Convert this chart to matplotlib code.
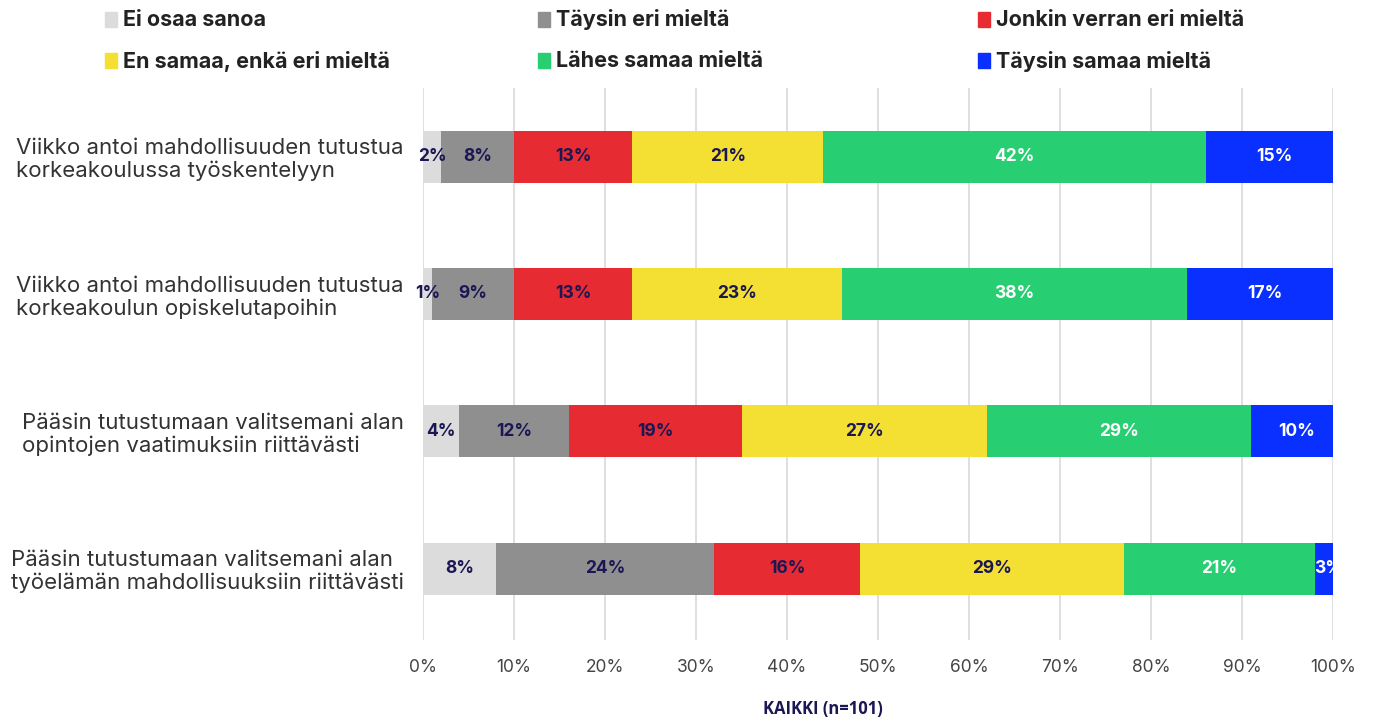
import numpy as np
import matplotlib.pyplot as plt
from matplotlib.patches import Rectangle

plt.rcParams['font.family'] = ['Inter', 'DejaVu Sans']

# survey data, percent of respondents (n=101); rows sum to 101 due to rounding
questions = [
    'Viikko antoi mahdollisuuden tutustua\nkorkeakoulussa työskentelyyn',
    'Viikko antoi mahdollisuuden tutustua\nkorkeakoulun opiskelutapoihin',
    'Pääsin tutustumaan valitsemani alan\nopintojen vaatimuksiin riittävästi',
    'Pääsin tutustumaan valitsemani alan\ntyöelämän mahdollisuuksiin riittävästi',
]
answers = ['Ei osaa sanoa', 'Täysin eri mieltä', 'Jonkin verran eri mieltä',
           'En samaa, enkä eri mieltä', 'Lähes samaa mieltä', 'Täysin samaa mieltä']
ei_osaa = [2, 1, 4, 8]
taysin_eri = [8, 9, 12, 24]
jonkin_verran = [13, 13, 19, 16]
en_samaa = [21, 23, 27, 29]
lahes_samaa = [42, 38, 29, 21]
taysin_samaa = [15, 17, 10, 3]

colors = ['#DCDCDC', '#8E8F8E', '#E62B33', '#F4DF33', '#27CE72', '#0A30FF']
label_colors = ['#1B1654', '#1B1654', '#1B1654', '#1B1654', 'white', 'white']

series = [ei_osaa, taysin_eri, jonkin_verran, en_samaa, lahes_samaa, taysin_samaa]

fig = plt.figure(figsize=(13.74, 7.18), dpi=100)
ax = fig.add_axes([0.3079, 0.1086, 0.6623, 0.7688])

y_pos = np.arange(len(questions))
left = np.zeros(len(questions))
for vals, col, lcol in zip(series, colors, label_colors):
    vals = np.array(vals, dtype=float)
    ax.barh(y_pos, vals, left=left, height=0.38, color=col, zorder=3)
    for y, l, v in zip(y_pos, left, vals):
        # labels running past 100% get cut at the axes edge
        ax.text(l + v / 2, y, f'{int(v)}%', ha='center', va='center',
                fontsize=12.5, fontweight='bold', color=lcol, zorder=4,
                clip_on=(l + v > 100))
    left += vals

ax.set_xlim(0, 100)
ax.set_ylim(3.52, -0.5)
ax.set_xticks(np.arange(0, 101, 10))
ax.set_xticklabels([f'{t}%' for t in range(0, 101, 10)])
ax.tick_params(axis='x', length=0, pad=14, labelsize=12.5, labelcolor='#444444')
ax.set_yticks(y_pos)
ax.set_yticklabels(questions, fontsize=16, color='#333333', ha='right',
                   multialignment='left', linespacing=1.15)
ax.tick_params(axis='y', length=0, pad=14)
ax.grid(axis='x', color='#D9D9D9', linewidth=1.2, zorder=0)
for s in ax.spines.values():
    s.set_visible(False)

# legend, two rows of three
leg_x = [105, 538, 978]
leg_y = [20, 61]
order = [(0, 0), (0, 1), (0, 2), (1, 0), (1, 1), (1, 2)]
for (r, c), name, col in zip(order, answers, colors):
    x = leg_x[c] / 1374
    y = 1 - leg_y[r] / 718
    fig.add_artist(Rectangle((x, y - 7 / 718), 12 / 1374, 15 / 718,
                             transform=fig.transFigure, color=col))
    fig.text(x + 18 / 1374, y, name, ha='left', va='center', fontsize=15.5,
             fontweight='bold', color='#222222')

fig.text(823 / 1374, 1 - 709 / 718, 'KAIKKI (n=101)', ha='center', va='center',
         fontsize=12, fontweight='bold', color='#1B1654', family='Open Sans')

plt.savefig('out.png', dpi=100)
